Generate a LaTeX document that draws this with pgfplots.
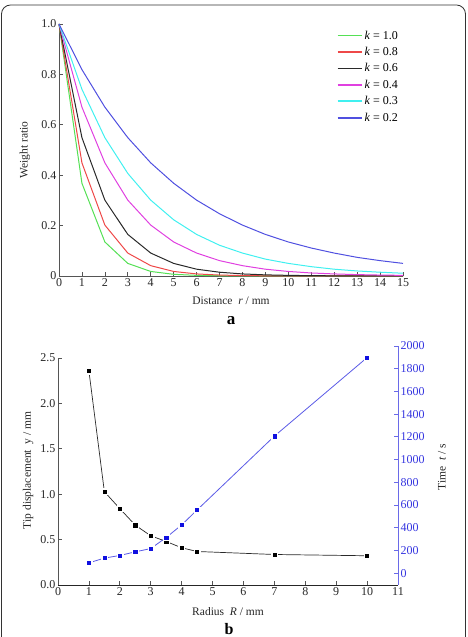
\documentclass[border=0pt]{standalone}
\usepackage{fontspec}
\setmainfont{Liberation Serif}
\usepackage{pgfplots}
\usepackage{pgfplotstable}
\pgfplotsset{compat=1.18}

\definecolor{axisgray}{HTML}{555555}
\definecolor{framegray}{HTML}{333333}
\definecolor{kgreen}{HTML}{55E055}
\definecolor{kred}{HTML}{EE4848}
\definecolor{kblack}{HTML}{2A2A2A}
\definecolor{kmag}{HTML}{E040E0}
\definecolor{kcyan}{HTML}{40F0F0}
\definecolor{kblue}{HTML}{5050E0}
\definecolor{tline}{HTML}{5A5AE6}
\definecolor{tmark}{HTML}{1010E0}
\definecolor{taxis}{HTML}{6A6AE8}
\definecolor{ttext}{HTML}{3535E0}

% weight ratio against distance for each k
\pgfplotstableread{
r    k10     k08     k06     k04     k03     k02
0    1.000   1.000   1.000   1.000   1.000   1.000
1    0.368   0.449   0.549   0.670   0.741   0.819
2    0.135   0.202   0.301   0.449   0.549   0.670
3    0.050   0.091   0.165   0.301   0.407   0.549
4    0.018   0.041   0.091   0.202   0.301   0.449
5    0.0067  0.018   0.050   0.135   0.223   0.368
6    0.0025  0.0082  0.027   0.091   0.165   0.301
7    0.0009  0.0037  0.015   0.061   0.122   0.247
8    0.0003  0.0017  0.0082  0.041   0.091   0.202
9    0.0001  0.0007  0.0045  0.027   0.067   0.165
10   0.0000  0.0003  0.0025  0.018   0.050   0.135
11   0.0000  0.0001  0.0014  0.012   0.037   0.111
12   0.0000  0.0000  0.0007  0.0082  0.027   0.091
13   0.0000  0.0000  0.0004  0.0055  0.020   0.074
14   0.0000  0.0000  0.0002  0.0037  0.015   0.061
15   0.0000  0.0000  0.0001  0.0025  0.011   0.050
}\weights

% tip displacement (mm) and time (s) against radius
\pgfplotstableread{
R    y      t
1    2.357  90
1.5  1.028  132
2    0.841  155
2.5  0.659  187
3    0.542  216
3.5  0.479  313
4    0.410  424
4.5  0.369  556
7    0.336  1206
10   0.322  1898
}\radius

\begin{document}
\begin{tikzpicture}
\useasboundingbox (0pt,0pt) rectangle (467pt,637pt);
\draw[framegray, line width=0.8pt, rounded corners=9pt]
  (1.5pt,-20pt) -- (1.5pt,632pt) -- (465.5pt,632pt) -- (465.5pt,-20pt);

\pgfplotsset{
  every tick label/.append style={font=\fontsize{12}{14}\selectfont, text=black!85},
  every axis label/.append style={font=\fontsize{11.5}{14}\selectfont, text=black!85},
  /pgf/number format/assume math mode=true,
  /pgf/number format/1000 sep={},
}

% ---- panel a ----
\begin{axis}[
  at={(59pt,361pt)}, anchor=south west, scale only axis,
  width=344pt, height=252pt,
  xmin=0, xmax=15, ymin=0, ymax=1,
  axis lines=left, axis line style={draw=axisgray, -, line width=0.8pt},
  tick align=inside, major tick length=4pt,
  tick style={axisgray, line width=0.7pt},
  xtick={0,1,...,15},
  ytick={0,0.2,0.4,0.6,0.8,1.0},
  yticklabels={0,0.2,0.4,0.6,0.8,1.0},
  xticklabel style={yshift=1pt},
  yticklabel style={xshift=1pt},
  xlabel={Distance \ \textit{r} / mm},
  ylabel={Weight ratio},
  xlabel style={at={(axis description cs:0.5,-0.099)}, anchor=center},
  ylabel style={at={(axis description cs:-0.099,0.5)}, anchor=center},
  legend style={draw=none, fill=none, at={(1.0,0.99)}, anchor=north east,
    font=\fontsize{12}{14}\selectfont, row sep=2.6pt,
    legend cell align=left},
  legend image code/.code={\draw[#1, line width=1.7pt] (0pt,0pt) -- (24pt,0pt);},
  clip=false,
]
\addplot[kgreen, line width=1pt] table[x=r, y=k10] {\weights};
\addlegendentry{\textit{k} = 1.0}
\addplot[kred, line width=1pt] table[x=r, y=k08] {\weights};
\addlegendentry{\textit{k} = 0.8}
\addplot[kblack, line width=1pt] table[x=r, y=k06] {\weights};
\addlegendentry{\textit{k} = 0.6}
\addplot[kmag, line width=1pt] table[x=r, y=k04] {\weights};
\addlegendentry{\textit{k} = 0.4}
\addplot[kcyan, line width=1pt] table[x=r, y=k03] {\weights};
\addlegendentry{\textit{k} = 0.3}
\addplot[kblue, line width=1pt] table[x=r, y=k02] {\weights};
\addlegendentry{\textit{k} = 0.2}
\end{axis}
\node[font=\bfseries\fontsize{17}{18}\selectfont] at (231pt,316pt) {a};

% ---- panel b, left axis: tip displacement ----
\begin{axis}[
  at={(58pt,52pt)}, anchor=south west, scale only axis,
  width=340pt, height=239pt,
  xmin=0, xmax=11, ymin=0, ymax=2.632,
  axis x line*=bottom, axis y line*=left,
  x axis line style={draw=black!85, -, line width=0.9pt},
  y axis line style={draw=none},
  tick align=inside, major tick length=4pt,
  tick style={axisgray, line width=0.7pt},
  xtick={0,1,...,11},
  ytick={0,0.5,1,1.5,2,2.5},
  yticklabels={0.0,0.5,1.0,1.5,2.0,2.5},
  xticklabel style={yshift=1pt},
  yticklabel style={xshift=1pt},
  xlabel={Radius \ \textit{R} / mm},
  ylabel={Tip displacement \ y / mm},
  xlabel style={at={(axis description cs:0.5,-0.113)}, anchor=center},
  ylabel style={at={(axis description cs:-0.088,0.48)}, anchor=center},
  clip=false,
]
\draw[axisgray, line width=0.8pt] (axis cs:0,0) -- (axis cs:0,2.5);
\addplot[kblack, line width=0.7pt] table[x=R, y=y] {\radius};
\addplot[only marks, mark=square*, mark size=3pt, mark options={draw=white, fill=white}] table[x=R, y=y] {\radius};
\addplot[only marks, mark=square*, mark size=1.6pt, mark options={draw=black, fill=black}] table[x=R, y=y] {\radius};
\end{axis}

% ---- panel b, right axis: time ----
\begin{axis}[
  at={(58pt,52pt)}, anchor=south west, scale only axis,
  width=340pt, height=239pt,
  xmin=0, xmax=11, ymin=-105, ymax=2000,
  axis x line=none, axis y line*=right,
  y axis line style={draw=taxis, -, line width=0.9pt},
  tick align=inside, major tick length=4pt,
  ytick style={taxis, line width=0.7pt},
  ytick={0,200,...,2000},
  yticklabel style={text=ttext, xshift=-1pt},
  ylabel={Time \ \textit{t} / s},
  ylabel style={at={(axis description cs:1.129,0.494)}, anchor=center},
  clip=false,
]
\addplot[tline, line width=0.8pt] table[x=R, y=t] {\radius};
\addplot[only marks, mark=square*, mark size=3pt, mark options={draw=white, fill=white}] table[x=R, y=t] {\radius};
\addplot[only marks, mark=square*, mark size=1.6pt, mark options={draw=tmark, fill=tmark}] table[x=R, y=t] {\radius};
\end{axis}
\node[font=\bfseries\fontsize{16}{17}\selectfont, anchor=base] at (229pt,2pt) {b};
\end{tikzpicture}
\end{document}
